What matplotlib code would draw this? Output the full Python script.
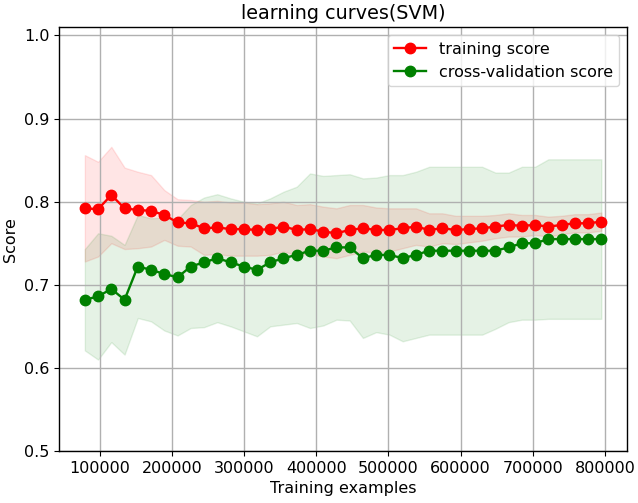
import numpy as np
import matplotlib
matplotlib.use("Agg")
import matplotlib.pyplot as plt

# training set sizes (40 steps)
train_sizes = [79500, 97846, 116192, 134538, 152885, 171231, 189577, 207923,
               226269, 244615, 262962, 281308, 299654, 318000, 336346, 354692,
               373038, 391385, 409731, 428077, 446423, 464769, 483115, 501462,
               519808, 538154, 556500, 574846, 593192, 611538, 629885, 648231,
               666577, 684923, 703269, 721615, 739962, 758308, 776654, 795000]

train_mean = [0.792, 0.791, 0.808, 0.792, 0.790, 0.789, 0.784, 0.775,
              0.774, 0.768, 0.769, 0.767, 0.767, 0.766, 0.767, 0.770,
              0.766, 0.767, 0.764, 0.762, 0.766, 0.768, 0.766, 0.766,
              0.768, 0.770, 0.766, 0.768, 0.766, 0.767, 0.768, 0.770,
              0.772, 0.771, 0.772, 0.770, 0.772, 0.774, 0.774, 0.776]
train_std = [0.064, 0.057, 0.058, 0.049, 0.046, 0.043, 0.030, 0.028,
             0.028, 0.032, 0.032, 0.032, 0.032, 0.031, 0.031, 0.030,
             0.030, 0.030, 0.030, 0.030, 0.030, 0.028, 0.027, 0.026,
             0.024, 0.022, 0.020, 0.018, 0.017, 0.016, 0.015, 0.014,
             0.014, 0.013, 0.012, 0.012, 0.011, 0.011, 0.011, 0.011]

test_mean = [0.682, 0.686, 0.695, 0.682, 0.722, 0.718, 0.713, 0.709,
             0.722, 0.727, 0.732, 0.727, 0.722, 0.718, 0.727, 0.732,
             0.736, 0.741, 0.741, 0.745, 0.745, 0.732, 0.736, 0.736,
             0.732, 0.736, 0.741, 0.741, 0.741, 0.741, 0.741, 0.741,
             0.745, 0.750, 0.750, 0.755, 0.755, 0.755, 0.755, 0.755]
test_std = [0.061, 0.076, 0.064, 0.066, 0.062, 0.062, 0.068, 0.070,
            0.074, 0.078, 0.077, 0.077, 0.078, 0.080, 0.077, 0.080,
            0.082, 0.093, 0.090, 0.087, 0.088, 0.096, 0.093, 0.096,
            0.100, 0.100, 0.101, 0.101, 0.101, 0.101, 0.101, 0.094,
            0.090, 0.092, 0.092, 0.096, 0.096, 0.096, 0.096, 0.096]

x = np.array(train_sizes)
tr_m = np.array(train_mean)
tr_s = np.array(train_std)
te_m = np.array(test_mean)
te_s = np.array(test_std)

# reference looks like a slightly enlarged default figure
plt.rcParams["font.size"] = 11.5
plt.rcParams["axes.linewidth"] = 1.0
plt.rcParams["grid.linewidth"] = 1.0
plt.rcParams["lines.linewidth"] = 1.7

fig = plt.figure(figsize=(6.38, 5.03), dpi=100)
ax = fig.add_axes([0.0925, 0.1034, 0.8905, 0.8426])

ax.fill_between(x, tr_m - tr_s, tr_m + tr_s, alpha=0.1, color="r")
ax.fill_between(x, te_m - te_s, te_m + te_s, alpha=0.1, color="g")
ax.plot(x, tr_m, "o-", color="r", markersize=7.5, label="training score")
ax.plot(x, te_m, "o-", color="g", markersize=7.5, label="cross-validation score")

ax.set_ylim(0.5, 1.01)
ax.set_title("learning curves(SVM)")
ax.set_xlabel("Training examples")
ax.set_ylabel("Score")
ax.grid(True)
ax.legend(loc="best")

fig.savefig("out.png", dpi=100)
